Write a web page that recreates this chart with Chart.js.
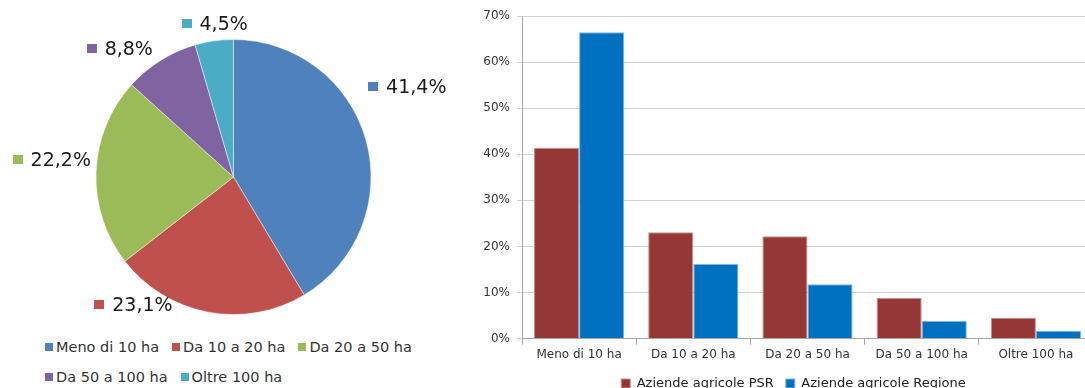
<!DOCTYPE html>
<html>
<head>
<meta charset="utf-8">
<script src="https://cdn.jsdelivr.net/npm/chart.js@4.4.1/dist/chart.umd.min.js"></script>
<style>
  html, body { margin: 0; padding: 0; background: #fff; }
  body { width: 1085px; height: 388px; overflow: hidden; position: relative; font-family: "DejaVu Sans", Verdana, sans-serif; }
  #pieBox { position: absolute; left: 0; top: 0; }
  #barBox { position: absolute; left: 470px; top: 0; }
  #pieLegend { position: absolute; left: 45px; top: 332px; width: 400px; display: flex; flex-wrap: wrap; font-size: 14.5px; color: #333; }
  #pieLegend .item { line-height: 30px; margin-right: 13px; white-space: nowrap; }
  #pieLegend .sw { display: inline-block; width: 8px; height: 8px; margin-right: 3px; vertical-align: 1px; }
</style>
</head>
<body>
<div id="pieBox"><canvas id="pieChart" width="467" height="330"></canvas></div>
<div id="pieLegend"></div>
<div id="barBox"><canvas id="barChart" width="640" height="400"></canvas></div>
<script>
// farm size classes
const categories = ['Meno di 10 ha', 'Da 10 a 20 ha', 'Da 20 a 50 ha', 'Da 50 a 100 ha', 'Oltre 100 ha'];
// share of farms (%)
const psrShares = [41.4, 23.1, 22.2, 8.8, 4.5];
const regioneShares = [66.5, 16.2, 11.8, 3.8, 1.7];
const seriesNames = ['Aziende agricole PSR', 'Aziende agricole Regione'];
const yTickMax = 70;
const yTickStep = 10;

const pieColors = ['#4F81BD', '#C0504D', '#9BBB59', '#8064A2', '#4BACC6'];
// label placement tweaks (degrees off the slice middle, px outside the rim)
const labelShift = [-11.8, 27.4, 3.1, -9.5, 1.1];
const labelGap = [58, 25, 45, 34, 17];

const fmt = v => v.toFixed(1).replace('.', ',') + '%';

// legend under the pie
const legendEl = document.getElementById('pieLegend');
categories.forEach((c, i) => {
    const item = document.createElement('span');
    item.className = 'item';
    const sw = document.createElement('span');
    sw.className = 'sw';
    sw.style.background = pieColors[i];
    item.appendChild(sw);
    item.appendChild(document.createTextNode(c));
    legendEl.appendChild(item);
});

const pieLabels = {
    id: 'pieLabels',
    afterDatasetsDraw(chart) {
        const ctx = chart.ctx;
        const meta = chart.getDatasetMeta(0);
        ctx.save();
        ctx.font = '19px "DejaVu Sans", Verdana, sans-serif';
        ctx.textBaseline = 'middle';
        ctx.textAlign = 'left';
        meta.data.forEach((arc, i) => {
            const p = arc.getProps(['x', 'y', 'startAngle', 'endAngle', 'outerRadius'], true);
            const a = (p.startAngle + p.endAngle) / 2 + labelShift[i] * Math.PI / 180;
            const r = p.outerRadius + labelGap[i];
            const cx = p.x + r * Math.cos(a);
            const cy = p.y + r * Math.sin(a);
            const txt = fmt(chart.data.datasets[0].data[i]);
            const w = 10 + 8 + ctx.measureText(txt).width;
            const left = cx - w / 2;
            ctx.fillStyle = pieColors[i];
            ctx.fillRect(Math.round(left), Math.round(cy - 5), 10, 9);
            ctx.fillStyle = '#1a1a1a';
            ctx.fillText(txt, left + 18, cy + 1);
        });
        ctx.restore();
    }
};

new Chart(document.getElementById('pieChart').getContext('2d'), {
    type: 'pie',
    data: {
        labels: categories,
        datasets: [{
            data: psrShares,
            backgroundColor: pieColors,
            borderColor: 'rgba(255,255,255,0.45)',
            borderWidth: 1
        }]
    },
    options: {
        responsive: false,
        animation: false,
        layout: { padding: { top: 39, bottom: 15 } },
        plugins: { legend: { display: false }, tooltip: { enabled: false } }
    },
    plugins: [pieLabels]
});

// nudge the bar legend a little to the right, like the original
const legendNudge = {
    id: 'legendNudge',
    afterLayout(chart) {
        if (chart.legend) {
            chart.legend.left += 12;
            chart.legend.right += 12;
        }
    }
};

new Chart(document.getElementById('barChart').getContext('2d'), {
    type: 'bar',
    data: {
        labels: categories,
        datasets: [
            {
                label: seriesNames[0],
                data: psrShares,
                backgroundColor: '#953735',
                borderColor: '#c98e8c',
                borderWidth: 1,
                borderSkipped: 'bottom',
                categoryPercentage: 0.79,
                barPercentage: 1.0
            },
            {
                label: seriesNames[1],
                data: regioneShares,
                backgroundColor: '#0070C0',
                borderColor: '#7db6e3',
                borderWidth: 1,
                borderSkipped: 'bottom',
                categoryPercentage: 0.79,
                barPercentage: 1.0
            }
        ]
    },
    options: {
        responsive: false,
        animation: false,
        layout: { padding: { top: 16, right: 17, bottom: 0, left: 0 } },
        scales: {
            x: {
                grid: { offset: true, drawOnChartArea: false, color: '#a6a6a6', tickLength: 6 },
                border: { color: '#a6a6a6' },
                ticks: { color: '#333', font: { family: 'DejaVu Sans', size: 12 }, padding: 3, maxRotation: 0 }
            },
            y: {
                min: 0,
                max: yTickMax,
                afterFit: s => { s.width = 52; },
                grid: { color: '#d0d0d0', tickLength: 5 },
                border: { color: '#a6a6a6' },
                ticks: {
                    stepSize: yTickStep,
                    color: '#333',
                    padding: 7,
                    font: { family: 'DejaVu Sans', size: 12 },
                    callback: v => v + '%'
                }
            }
        },
        plugins: {
            tooltip: { enabled: false },
            legend: {
                position: 'bottom',
                labels: {
                    boxWidth: 9,
                    boxHeight: 9,
                    padding: 12,
                    color: '#222',
                    font: { family: 'DejaVu Sans', size: 13 }
                }
            }
        }
    },
    plugins: [legendNudge]
});
</script>
</body>
</html>
